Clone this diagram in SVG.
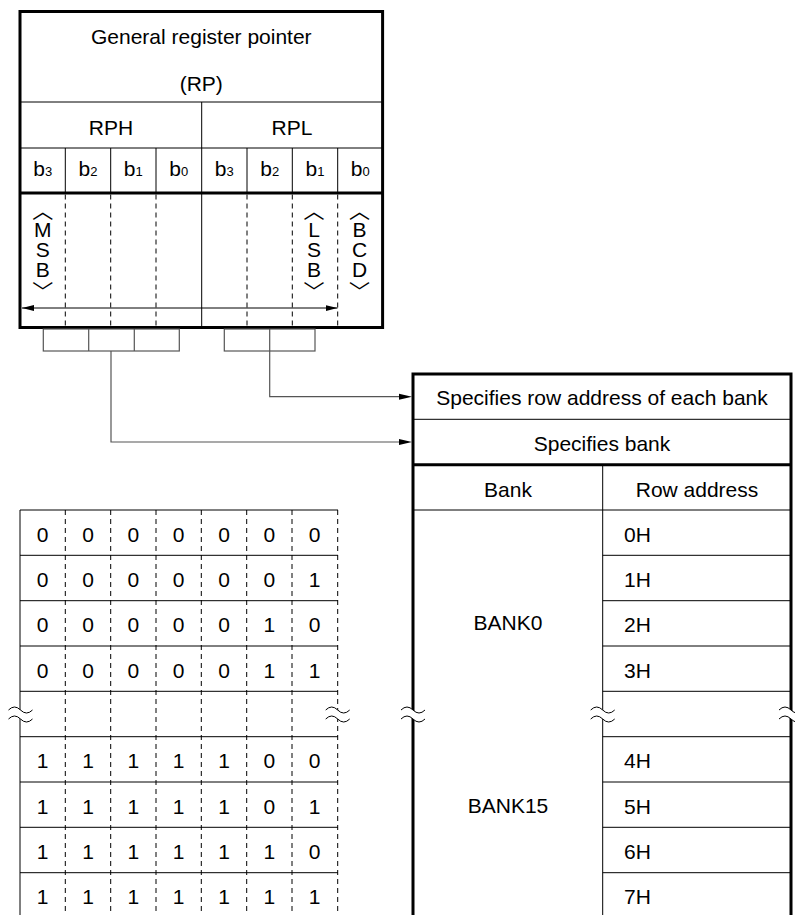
<svg xmlns="http://www.w3.org/2000/svg" width="795" height="915" viewBox="0 0 795 915">
<defs>
<style>
text{font-family:"Liberation Sans",Arial,sans-serif;font-size:21px;fill:#000}
.c{text-anchor:middle}
.sub{font-size:13px}
.br{font-family:"Noto Sans CJK JP","Noto Sans CJK SC",sans-serif;font-size:21px;text-anchor:middle}
.thin{stroke:#000;stroke-width:1;fill:none}
.gray{stroke:#555;stroke-width:1.2;fill:none}
.thick{stroke:#000;stroke-width:3;fill:none}
.dash{stroke:#000;stroke-width:1;stroke-dasharray:5,4;fill:none}
.wv{stroke:#000;stroke-width:1;fill:none}
</style>
<marker id="ah" viewBox="0 0 12 6" refX="12" refY="3" markerWidth="12" markerHeight="6" markerUnits="userSpaceOnUse" orient="auto-start-reverse">
<path d="M0,0 L12,3 L0,6 Z" fill="#000"/>
</marker>
<g id="wave">
<path d="M-12,-4.5 Q-6,-10.5 0,-4.5 Q6,1.5 12,-4.5 L12,4.5 Q6,10.5 0,4.5 Q-6,-1.5 -12,4.5 Z" fill="#fff"/>
<path class="wv" d="M-12,-4.5 Q-6,-10.5 0,-4.5 Q6,1.5 12,-4.5"/>
<path class="wv" d="M-12,4.5 Q-6,-1.5 0,4.5 Q6,10.5 12,4.5"/>
</g>
</defs>
<rect width="795" height="915" fill="#fff"/>

<g id="register">
<rect class="thick" x="20" y="11.5" width="362.6" height="316"/>
<line class="thin" x1="20" y1="102" x2="382.6" y2="102"/>
<line class="thin" x1="20" y1="148" x2="382.6" y2="148"/>
<line class="thick" x1="20" y1="193" x2="382.6" y2="193"/>
<line class="thin" x1="201.7" y1="102" x2="201.7" y2="327.5"/>
<g class="thin">
<line x1="65.3" y1="148" x2="65.3" y2="193"/>
<line x1="110.7" y1="148" x2="110.7" y2="193"/>
<line x1="156" y1="148" x2="156" y2="193"/>
<line x1="247" y1="148" x2="247" y2="193"/>
<line x1="292.3" y1="148" x2="292.3" y2="193"/>
<line x1="337.7" y1="148" x2="337.7" y2="193"/>
</g>
<g class="dash">
<line x1="65.3" y1="194.5" x2="65.3" y2="326"/>
<line x1="110.7" y1="194.5" x2="110.7" y2="326"/>
<line x1="156" y1="194.5" x2="156" y2="326"/>
<line x1="247" y1="194.5" x2="247" y2="326"/>
<line x1="292.3" y1="194.5" x2="292.3" y2="326"/>
<line x1="337.7" y1="194.5" x2="337.7" y2="326"/>
</g>
<text class="c" x="201.3" y="44">General register pointer</text>
<text class="c" x="201.3" y="91">(RP)</text>
<text class="c" x="111" y="135">RPH</text>
<text class="c" x="292" y="135">RPL</text>
<text class="c" x="42.7" y="176">b<tspan class="sub">3</tspan></text>
<text class="c" x="88" y="176">b<tspan class="sub">2</tspan></text>
<text class="c" x="133.3" y="176">b<tspan class="sub">1</tspan></text>
<text class="c" x="178.7" y="176">b<tspan class="sub">0</tspan></text>
<text class="c" x="224.3" y="176">b<tspan class="sub">3</tspan></text>
<text class="c" x="269.7" y="176">b<tspan class="sub">2</tspan></text>
<text class="c" x="315" y="176">b<tspan class="sub">1</tspan></text>
<text class="c" x="360.3" y="176">b<tspan class="sub">0</tspan></text>
<text class="br" x="42.7" y="218">︿</text>
<text class="c" x="42.7" y="236.5">M</text>
<text class="c" x="42.7" y="256.5">S</text>
<text class="c" x="42.7" y="276.5">B</text>
<text class="br" x="42.7" y="299">﹀</text>
<text class="br" x="314" y="218">︿</text>
<text class="c" x="314" y="236.5">L</text>
<text class="c" x="314" y="256.5">S</text>
<text class="c" x="314" y="276.5">B</text>
<text class="br" x="314" y="299">﹀</text>
<text class="br" x="359.5" y="218">︿</text>
<text class="c" x="359.5" y="236.5">B</text>
<text class="c" x="359.5" y="256.5">C</text>
<text class="c" x="359.5" y="276.5">D</text>
<text class="br" x="359.5" y="299">﹀</text>
<line class="thin" x1="22" y1="308" x2="337.5" y2="308" marker-start="url(#ah)" marker-end="url(#ah)"/>
</g>

<g id="fieldboxes">
<rect class="gray" x="43.3" y="329" width="136" height="22"/>
<line class="gray" x1="88.7" y1="329" x2="88.7" y2="351"/>
<line class="gray" x1="134.3" y1="329" x2="134.3" y2="351"/>
<rect class="gray" x="224.3" y="329" width="90.7" height="22"/>
<line class="gray" x1="269.7" y1="329" x2="269.7" y2="351"/>
</g>

<g id="connectors">
<polyline class="gray" points="269.7,351 269.7,396.7 400,396.7"/>
<polyline class="gray" points="111,351 111,442 400,442"/>
<path d="M399,393.7 L412,396.7 L399,399.7 Z" fill="#000"/>
<path d="M399,439 L412,442 L399,445 Z" fill="#000"/>
</g>

<g id="banktable">
<line class="thin" x1="413" y1="419.3" x2="791" y2="419.3"/>
<line class="thick" x1="413" y1="464.7" x2="791" y2="464.7"/>
<line class="thin" x1="413" y1="510" x2="791" y2="510"/>
<line class="thin" x1="602.7" y1="464.7" x2="602.7" y2="915"/>
<g class="thin">
<line x1="602.7" y1="555.3" x2="791" y2="555.3"/>
<line x1="602.7" y1="600.7" x2="791" y2="600.7"/>
<line x1="602.7" y1="646" x2="791" y2="646"/>
<line x1="602.7" y1="691.3" x2="791" y2="691.3"/>
<line x1="602.7" y1="736.7" x2="791" y2="736.7"/>
<line x1="602.7" y1="782" x2="791" y2="782"/>
<line x1="602.7" y1="827.3" x2="791" y2="827.3"/>
<line x1="602.7" y1="872.7" x2="791" y2="872.7"/>
</g>
<path class="thick" d="M413,916 L413,374 L791,374 L791,916"/>
<text class="c" x="602" y="405">Specifies row address of each bank</text>
<text class="c" x="602" y="451">Specifies bank</text>
<text class="c" x="508" y="496.5">Bank</text>
<text class="c" x="697" y="496.5">Row address</text>
<text class="c" x="508" y="630">BANK0</text>
<text class="c" x="508" y="813">BANK15</text>
<text x="624" y="541.5">0H</text>
<text x="624" y="586.8">1H</text>
<text x="624" y="632.2">2H</text>
<text x="624" y="677.5">3H</text>
<text x="624" y="768.2">4H</text>
<text x="624" y="813.5">5H</text>
<text x="624" y="858.8">6H</text>
<text x="624" y="904.2">7H</text>
<use href="#wave" x="413" y="714.5"/>
<use href="#wave" x="602.7" y="714.5"/>
<use href="#wave" x="791" y="714.5"/>
</g>

<g id="bittable">
<line class="thin" x1="20" y1="510" x2="20" y2="915"/>
<g class="thin">
<line x1="20" y1="510" x2="338" y2="510"/>
<line x1="20" y1="555.3" x2="338" y2="555.3"/>
<line x1="20" y1="600.7" x2="338" y2="600.7"/>
<line x1="20" y1="646" x2="338" y2="646"/>
<line x1="20" y1="691.3" x2="338" y2="691.3"/>
<line x1="20" y1="736.7" x2="338" y2="736.7"/>
<line x1="20" y1="782" x2="338" y2="782"/>
<line x1="20" y1="827.3" x2="338" y2="827.3"/>
<line x1="20" y1="872.7" x2="338" y2="872.7"/>
</g>
<g class="dash">
<line x1="65.3" y1="510" x2="65.3" y2="915"/>
<line x1="110.7" y1="510" x2="110.7" y2="915"/>
<line x1="156" y1="510" x2="156" y2="915"/>
<line x1="201.3" y1="510" x2="201.3" y2="915"/>
<line x1="246.7" y1="510" x2="246.7" y2="915"/>
<line x1="292" y1="510" x2="292" y2="915"/>
<line x1="337.7" y1="510" x2="337.7" y2="915"/>
</g>
<g class="c">
<text x="42.7" y="541.5">0</text><text x="88" y="541.5">0</text><text x="133.3" y="541.5">0</text><text x="178.7" y="541.5">0</text><text x="224" y="541.5">0</text><text x="269.3" y="541.5">0</text><text x="314.7" y="541.5">0</text>
<text x="42.7" y="586.8">0</text><text x="88" y="586.8">0</text><text x="133.3" y="586.8">0</text><text x="178.7" y="586.8">0</text><text x="224" y="586.8">0</text><text x="269.3" y="586.8">0</text><text x="314.7" y="586.8">1</text>
<text x="42.7" y="632.2">0</text><text x="88" y="632.2">0</text><text x="133.3" y="632.2">0</text><text x="178.7" y="632.2">0</text><text x="224" y="632.2">0</text><text x="269.3" y="632.2">1</text><text x="314.7" y="632.2">0</text>
<text x="42.7" y="677.5">0</text><text x="88" y="677.5">0</text><text x="133.3" y="677.5">0</text><text x="178.7" y="677.5">0</text><text x="224" y="677.5">0</text><text x="269.3" y="677.5">1</text><text x="314.7" y="677.5">1</text>
<text x="42.7" y="768.2">1</text><text x="88" y="768.2">1</text><text x="133.3" y="768.2">1</text><text x="178.7" y="768.2">1</text><text x="224" y="768.2">1</text><text x="269.3" y="768.2">0</text><text x="314.7" y="768.2">0</text>
<text x="42.7" y="813.5">1</text><text x="88" y="813.5">1</text><text x="133.3" y="813.5">1</text><text x="178.7" y="813.5">1</text><text x="224" y="813.5">1</text><text x="269.3" y="813.5">0</text><text x="314.7" y="813.5">1</text>
<text x="42.7" y="858.8">1</text><text x="88" y="858.8">1</text><text x="133.3" y="858.8">1</text><text x="178.7" y="858.8">1</text><text x="224" y="858.8">1</text><text x="269.3" y="858.8">1</text><text x="314.7" y="858.8">0</text>
<text x="42.7" y="904.2">1</text><text x="88" y="904.2">1</text><text x="133.3" y="904.2">1</text><text x="178.7" y="904.2">1</text><text x="224" y="904.2">1</text><text x="269.3" y="904.2">1</text><text x="314.7" y="904.2">1</text>
</g>
<use href="#wave" x="20.5" y="714.5"/>
<use href="#wave" x="337.7" y="714.5"/>
</g>
</svg>
